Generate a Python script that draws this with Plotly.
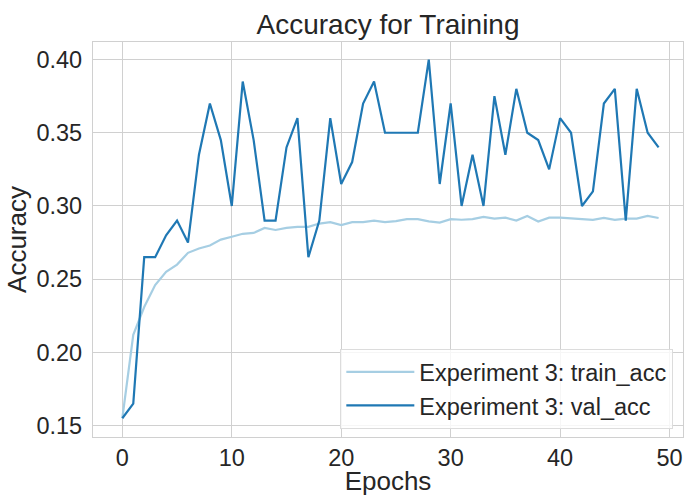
import plotly.graph_objects as go

epochs = list(range(50))
train_acc = [0.155, 0.212, 0.231, 0.246, 0.255, 0.260, 0.268, 0.271, 0.273, 0.277,
             0.279, 0.281, 0.2816, 0.285, 0.2836, 0.285, 0.2857, 0.2857, 0.288, 0.289,
             0.287, 0.289, 0.289, 0.290, 0.289, 0.2897, 0.291, 0.291, 0.2895, 0.2887,
             0.291, 0.2906, 0.291, 0.2925, 0.2914, 0.292, 0.290, 0.2932, 0.2894, 0.292,
             0.292, 0.2914, 0.291, 0.2905, 0.2918, 0.2905, 0.2914, 0.2914, 0.2932, 0.2918]
val_acc = [0.155, 0.165, 0.265, 0.265, 0.28, 0.29, 0.275, 0.335, 0.37, 0.345,
           0.30, 0.385, 0.345, 0.29, 0.29, 0.34, 0.36, 0.265, 0.29, 0.36,
           0.315, 0.33, 0.37, 0.385, 0.35, 0.35, 0.35, 0.35, 0.40, 0.315,
           0.37, 0.30, 0.335, 0.30, 0.375, 0.335, 0.38, 0.35, 0.345, 0.325,
           0.36, 0.35, 0.30, 0.31, 0.37, 0.38, 0.29, 0.38, 0.35, 0.34]

x_ticks = [0, 10, 20, 30, 40, 50]
y_ticks = [0.15, 0.20, 0.25, 0.30, 0.35, 0.40]
y_tick_labels = ["0.15", "0.20", "0.25", "0.30", "0.35", "0.40"]

FONT = "Liberation Sans, Arial, sans-serif"
TXT = "#262626"
GRID = "#d0d0d0"

fig = go.Figure()
fig.add_trace(go.Scatter(x=epochs, y=train_acc, mode="lines",
                         name="Experiment 3: train_acc",
                         line=dict(color="#a6cee3", width=2.2)))
fig.add_trace(go.Scatter(x=epochs, y=val_acc, mode="lines",
                         name="Experiment 3: val_acc",
                         line=dict(color="#1f78b4", width=2.2)))

fig.update_layout(
    width=684, height=496,
    margin=dict(l=93, r=1, t=42, b=59),
    paper_bgcolor="white", plot_bgcolor="white",
    font=dict(family=FONT, color=TXT, size=23.5),
    title=dict(text="Accuracy for Training", x=(93 + 683) / 2 / 684, xanchor="center",
               y=1 - 24 / 496, yanchor="middle", yref="container",
               font=dict(size=28, color=TXT, family=FONT)),
    showlegend=True,
    legend=dict(x=0.9836, xanchor="right", y=0.02, yanchor="bottom",
                bgcolor="rgba(255,255,255,0.8)", bordercolor="#dcdcdc", borderwidth=1,
                font=dict(size=23.5, color=TXT, family=FONT),
                tracegroupgap=0, itemwidth=68),
)
fig.update_xaxes(range=[-2.68, 51.23], tickvals=x_ticks, showgrid=True, gridcolor=GRID,
                 gridwidth=1.3, zeroline=False, showline=True, linecolor=GRID, linewidth=1.3,
                 mirror=True, ticks="", ticklen=0,
                 title=dict(text="Epochs", font=dict(size=26, color=TXT, family=FONT), standoff=2),
                 tickfont=dict(size=23.5, color=TXT, family=FONT))
fig.update_yaxes(range=[0.1422, 0.412], tickvals=y_ticks, ticktext=y_tick_labels,
                 showgrid=True, gridcolor=GRID,
                 gridwidth=1.3, zeroline=False, showline=True, linecolor=GRID, linewidth=1.3,
                 mirror=True, ticks="", ticklen=0, ticklabelstandoff=5,
                 title=dict(text="Accuracy", font=dict(size=26, color=TXT, family=FONT), standoff=2),
                 tickfont=dict(size=23.5, color=TXT, family=FONT))

fig.write_html("out.html")
